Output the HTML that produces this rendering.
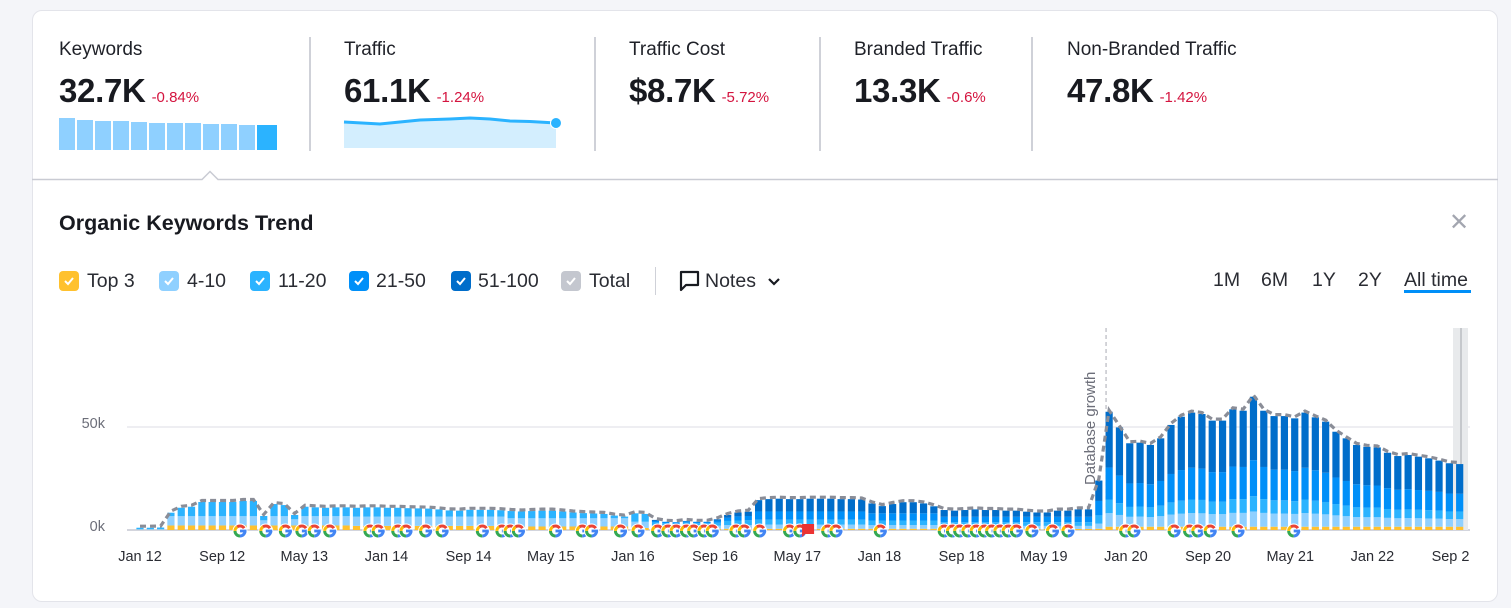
<!DOCTYPE html>
<html><head><meta charset="utf-8">
<style>
*{box-sizing:border-box;margin:0;padding:0}
body{width:1511px;height:608px;background:#f4f5f9;font-family:"Liberation Sans",sans-serif;color:#181a20;position:relative;overflow:hidden}
.card{position:absolute;left:32px;top:10px;width:1466px;height:592px;background:#fff;border:1px solid #e3e4ea;border-radius:10px}
.abs{position:absolute}
.lbl{font-size:19px;color:#1f2128;white-space:nowrap}
.big{font-size:33px;font-weight:bold;letter-spacing:-0.3px;white-space:nowrap}
.chg{font-size:15px;color:#d4143f;font-weight:normal;letter-spacing:0;margin-left:6px}
.sep{position:absolute;width:2px;background:#cfd1d8;top:37px;height:114px}
.cb{position:absolute;width:20px;height:20px;border-radius:4px;top:271px}
.cb svg{position:absolute;left:3px;top:3px}
.lt{position:absolute;top:270px;font-size:19.5px;color:#2a2c33}
.tr{position:absolute;top:269px;font-size:19.5px;color:#2a2c33}
</style></head>
<body>
<div class="card"></div>

<div class="abs lbl" style="left:59px;top:39px">Keywords</div>
<div class="abs big" style="left:59px;top:72px">32.7K<span class="chg">-0.84%</span></div>
<svg class="abs" style="left:59px;top:116px" width="220" height="34">
<g fill="#8fd0ff">
<rect x="0" y="2" width="16" height="32"/><rect x="18" y="4" width="16" height="30"/><rect x="36" y="5" width="16" height="29"/><rect x="54" y="5" width="16" height="29"/><rect x="72" y="6" width="16" height="28"/><rect x="90" y="7" width="16" height="27"/><rect x="108" y="7" width="16" height="27"/><rect x="126" y="7" width="16" height="27"/><rect x="144" y="8" width="16" height="26"/><rect x="162" y="8" width="16" height="26"/><rect x="180" y="9" width="16" height="25"/></g>
<rect x="198" y="9" width="20" height="25" fill="#2bb3ff"/>
</svg>
<div class="sep" style="left:309px"></div>

<div class="abs lbl" style="left:344px;top:39px">Traffic</div>
<div class="abs big" style="left:344px;top:72px">61.1K<span class="chg">-1.24%</span></div>
<svg class="abs" style="left:340px;top:112px" width="225" height="40">
<path d="M4 10 L40 12 L60 10 L80 8 L110 7 L130 6 L150 7 L170 9 L190 9.5 L216 11 L216 36 L4 36Z" fill="#d3eefe"/>
<path d="M4 10 L40 12 L60 10 L80 8 L110 7 L130 6 L150 7 L170 9 L190 9.5 L216 11" fill="none" stroke="#2bb3ff" stroke-width="3"/>
<circle cx="216" cy="11" r="5.5" fill="#2bb3ff" stroke="#fff" stroke-width="1"/>
</svg>
<div class="sep" style="left:594px"></div>

<div class="abs lbl" style="left:629px;top:39px">Traffic Cost</div>
<div class="abs big" style="left:629px;top:72px">$8.7K<span class="chg">-5.72%</span></div>
<div class="sep" style="left:819px"></div>

<div class="abs lbl" style="left:854px;top:39px">Branded Traffic</div>
<div class="abs big" style="left:854px;top:72px">13.3K<span class="chg">-0.6%</span></div>
<div class="sep" style="left:1031px"></div>

<div class="abs lbl" style="left:1067px;top:39px">Non-Branded Traffic</div>
<div class="abs big" style="left:1067px;top:72px">47.8K<span class="chg">-1.42%</span></div>

<svg class="abs" style="left:32px;top:170px" width="1466" height="14">
<path d="M0 9.5 H170 L178 1.5 L186 9.5 H1466" fill="#fff" stroke="#c9cbd3" stroke-width="1.5"/>
</svg>

<div class="abs" style="left:59px;top:211px;font-size:21.5px;font-weight:bold;color:#181a20">Organic Keywords Trend</div>
<div class="abs" style="left:1449px;top:209px;font-size:24px;color:#a3a6b0;line-height:28px">✕</div>

<div class="cb" style="left:59px;background:#ffc12e"><svg width="14" height="14"><path d="M3 7 L6 10 L11 4" stroke="#fff" stroke-width="2" fill="none"/></svg></div>
<div class="lt" style="left:87px">Top 3</div>
<div class="cb" style="left:159px;background:#8fd0ff"><svg width="14" height="14"><path d="M3 7 L6 10 L11 4" stroke="#fff" stroke-width="2" fill="none"/></svg></div>
<div class="lt" style="left:187px">4-10</div>
<div class="cb" style="left:250px;background:#2bb3ff"><svg width="14" height="14"><path d="M3 7 L6 10 L11 4" stroke="#fff" stroke-width="2" fill="none"/></svg></div>
<div class="lt" style="left:278px">11-20</div>
<div class="cb" style="left:349px;background:#008ff8"><svg width="14" height="14"><path d="M3 7 L6 10 L11 4" stroke="#fff" stroke-width="2" fill="none"/></svg></div>
<div class="lt" style="left:376px">21-50</div>
<div class="cb" style="left:451px;background:#006dca"><svg width="14" height="14"><path d="M3 7 L6 10 L11 4" stroke="#fff" stroke-width="2" fill="none"/></svg></div>
<div class="lt" style="left:478px">51-100</div>
<div class="cb" style="left:561px;background:#c4c7cf"><svg width="14" height="14"><path d="M3 7 L6 10 L11 4" stroke="#fff" stroke-width="2" fill="none"/></svg></div>
<div class="lt" style="left:589px">Total</div>
<div class="abs" style="left:655px;top:267px;width:1px;height:28px;background:#cfd1d8"></div>
<svg class="abs" style="left:679px;top:270px" width="22" height="22"><path d="M2 2 H19 V15 H7 L2 20Z" fill="none" stroke="#181a20" stroke-width="2.2" stroke-linejoin="round"/></svg>
<div class="lt" style="left:705px">Notes</div>
<svg class="abs" style="left:767px;top:276px" width="14" height="12"><path d="M2 3 L7 8 L12 3" fill="none" stroke="#181a20" stroke-width="2.2"/></svg>

<div class="tr" style="left:1213px">1M</div>
<div class="tr" style="left:1261px">6M</div>
<div class="tr" style="left:1312px">1Y</div>
<div class="tr" style="left:1358px">2Y</div>
<div class="tr" style="left:1404px">All time</div>
<div class="abs" style="left:1404px;top:290px;width:67px;height:3px;background:#008ff8"></div>

<svg id="chart" class="abs" style="left:0;top:0" width="1511" height="608"></svg>

<script>
const top3 = [0.1,0.1,0.1,
2.2,2.2,2.2,2.2,2.2,2.2,2.2,2.2,2.2,2.2,2.2,2.2,2.2,2.2,2.2,2.2,2.2,2.2,
2.0,2.0,2.0,2.0,2.0,2.0,2.0,2.0,2.0,2.0,2.0,2.0,2.0,2.0,2.0,
1.7,1.7,1.7,1.7,1.7,1.7,1.7,1.7,1.7,1.7,1.7,1.7,
1.0,1.0,0.6,0.6,0.6,0.6,0.6,0.6,0.6,0.6,0.6,0.6,
0.6,0.6,0.6,0.6,0.6,0.6,0.6,0.6,0.6,0.6,0.6,
0.6,0.6,0.6,0.6,0.6,0.6,0.6,
0.5,0.5,0.5,0.5,0.5,0.5,0.5,0.5,0.5,0.5,0.5,0.5,0.5,0.5,0.5,
0.6,
1.6,1.6,1.6,1.6,1.6,1.6,1.6,1.6,1.6,1.6,1.6,1.6,1.6,1.6,1.6,1.6,1.6,1.6,1.6,1.6,1.6,1.6,1.6,1.6,1.6,1.6,1.6,1.6,1.6,1.6,1.6,1.6,1.6,1.6,1.6];
const pos4to10 = [0.3,0.3,0.3,
4.5,4.5,4.5,4.5,4.5,4.5,4.5,4.5,4.5,2.5,4.5,4.5,3.0,4.5,4.5,4.5,4.5,4.5,
4.5,4.5,4.5,4.5,4.5,4.5,4.5,4.5,4.5,4.5,4.5,4.5,4.5,4.5,4.5,
4.0,4.0,4.0,4.0,4.0,4.0,4.0,4.0,4.0,4.0,4.0,4.0,
3.0,3.0,1.5,1.5,1.5,1.5,1.5,1.5,1.5,1.8,1.8,1.8,
2.0,2.0,2.0,2.0,2.0,2.0,2.0,2.0,2.0,2.0,2.0,
1.8,1.8,1.8,1.8,1.8,1.8,1.8,
1.5,1.5,1.5,1.5,1.5,1.5,1.5,1.5,1.5,1.5,1.5,1.5,1.5,1.5,1.5,
2.5,
6.6,5.7,4.8,4.9,4.7,5.1,5.9,6.3,6.6,6.5,6.1,6.1,6.7,6.7,7.4,6.7,6.4,6.4,6.2,6.6,6.3,6.0,5.5,5.1,4.7,4.6,4.6,4.3,4.1,4.2,4.1,4.0,3.9,3.7,3.7];
const pos11to20 = [0.7,0.7,0.8,
1.7,4.1,4.6,6.9,6.9,6.9,6.9,7.4,7.4,2.1,5.9,5.4,2.1,4.6,4.3,4.1,4.3,4.3,
4.3,4.5,4.5,4.3,4.3,4.1,4.0,3.9,3.5,3.0,2.9,3.3,3.3,3.3,3.1,
3.5,3.3,3.5,3.7,3.7,3.3,2.8,2.5,2.3,2.1,1.3,0.8,
4.1,3.8,1.6,1.2,1.0,1.4,1.2,1.2,1.5,2.0,2.2,2.3,
2.4,2.4,2.4,2.4,2.4,2.4,2.4,2.4,2.4,2.4,2.4,
2.2,2.2,2.2,2.2,2.2,2.2,2.2,
1.8,1.8,1.8,1.8,1.8,1.8,1.8,1.8,1.8,1.8,1.8,1.8,1.8,1.8,1.8,
4.0,
6.6,5.7,4.8,4.9,4.7,5.1,5.9,6.3,6.6,6.5,6.1,6.1,6.7,6.7,7.4,6.7,6.4,6.4,6.2,6.6,6.3,6.0,5.5,5.1,4.7,4.6,4.6,4.3,4.1,4.2,4.1,4.0,3.9,3.7,3.7];
const pos21to50 = [0,0,0,
0,0,0,0,0,0,0,0,0,0,0,0,0,0,0,0,0,0,
0,0,0,0,0,0,0,0,0,0,0,0,0,0,0,
0,0,0,0,0,0,0,0,0,0,0,0,
0,0,0.7,0.7,0.7,0.7,0.7,0.7,1.0,1.5,2.0,2.1,
4.0,4.0,4.0,4.0,4.0,4.0,4.0,4.0,4.0,4.0,4.0,
3.5,3.5,3.5,3.5,3.5,3.5,3.5,
2.6,2.6,2.6,2.6,2.6,2.6,2.6,2.6,2.6,2.6,2.6,2.6,2.6,2.6,2.6,
7.0,
15.5,13.4,11.4,11.4,11.2,12.0,13.8,14.9,15.4,15.2,14.3,14.3,15.8,15.6,17.5,15.6,14.9,14.9,14.6,15.4,14.8,14.2,12.9,12.0,11.2,10.9,10.8,10.1,9.7,9.8,9.6,9.4,9.1,8.7,8.6];
const totalKw = [1.1,1.1,1.2,
8.4,10.8,11.3,13.6,13.6,13.6,13.6,14.1,14.1,6.8,12.6,12.1,7.3,11.3,11.0,10.8,11.0,11.0,
10.8,11.0,11.0,10.8,10.8,10.6,10.5,10.4,10.0,9.5,9.4,9.8,9.8,9.8,9.6,
9.2,9.0,9.2,9.4,9.4,9.0,8.5,8.2,8.0,7.8,7.0,6.5,
8.1,7.8,4.9,4.0,3.8,4.4,4.0,4.0,5.2,7.3,8.5,8.9,
14.5,15.0,15.2,15.0,15.0,15.2,15.2,15.2,15.0,15.0,14.8,
12.9,11.6,12.6,13.5,13.5,12.9,11.5,
9.7,9.4,9.7,10.0,9.7,9.7,9.4,9.4,8.9,8.5,8.5,9.4,9.4,10.0,10.0,
24.0,
57.4,49.8,42.1,42.4,41.3,44.5,51.0,55.0,57.0,56.3,53.1,53.1,58.6,57.9,64.7,57.9,55.3,55.3,54.2,57.0,54.7,52.6,47.7,44.5,41.3,40.4,40.1,37.5,35.9,36.4,35.6,34.8,33.7,32.4,32.0];
const xTickLabels = ["Jan 12","Sep 12","May 13","Jan 14","Sep 14","May 15","Jan 16","Sep 16","May 17","Jan 18","Sep 18","May 19","Jan 20","Sep 20","May 21","Jan 22","Sep 22"];
const xTickMonths = [0,8,16,24,32,40,48,56,64,72,80,88,96,104,112,120,128];
const yTicks = [0,50];
const yTickLabels = ["0k","50k"];
const googleNotes = [9.7,12.2,14.1,15.7,16.9,18.4,22.3,23.1,25,25.8,27.7,29.3,33.2,35.1,35.9,36.7,40.3,42.9,43.8,46.6,48.3,50.2,51.2,52,53,53.7,54.7,55.5,57.8,58.6,60.1,63,64,66.7,67.5,71.8,78,78.8,79.5,80.3,81.1,81.9,82.6,83.4,84.2,85,86.5,88.5,90,95.6,96.4,100.3,101.8,102.6,103.8,106.5,111.9];
const flagNotes = [64.8];
const dbGrowthMonth = 93.7;

const NS="http://www.w3.org/2000/svg";
const svg=document.getElementById('chart');
const X0=140, XS=10.31, Y0=530, YS=103/50;
const xScale=m=>X0+m*XS;
const yScale=v=>Y0-v*YS;
function mk(tag,attrs,parent){const e=document.createElementNS(NS,tag);for(const k in attrs)e.setAttribute(k,attrs[k]);(parent||svg).appendChild(e);return e;}

const defs=mk('defs',{});
const cp=mk('clipPath',{id:'plotclip'},defs);
mk('rect',{x:100,y:300,width:1370,height:300},cp);

yTicks.forEach((t,i)=>{
  const gl=mk('line',{x1:127,x2:1470,y1:yScale(t),y2:yScale(t),stroke:i===0?'#d3d5dd':'#e3e4ea','stroke-width':i===0?2:1.2});
  
  
  const tl=mk('text',{x:105,y:yScale(t)+1,'text-anchor':'end','font-size':14.5,fill:'#6c6e79','font-family':'Liberation Sans, sans-serif'});
  tl.textContent=yTickLabels[i];
  
  
});

const band=mk('rect',{x:1453,y:328,width:15,height:202,fill:'#e8eaec'});


mk('line',{x1:1461,x2:1461,y1:328,y2:530,stroke:'#b9bdc1','stroke-width':1.5});

const dbx=xScale(dbGrowthMonth);
const dbl=mk('line',{x1:dbx,x2:dbx,y1:328,y2:530,stroke:'#a9abb3','stroke-width':1,'stroke-dasharray':'4 3'});


const dbt=mk('text',{x:0,y:0,transform:`translate(${dbx-11},485) rotate(-90)`,'font-size':15,fill:'#6c6e79','font-family':'Liberation Sans, sans-serif'});
dbt.textContent='Database growth';



const series=[
 {name:'top3',c:'#ffc12e'},{name:'pos-4-10',c:'#8fd0ff'},{name:'pos-11-20',c:'#2bb3ff'},{name:'pos-21-50',c:'#008ff8'},{name:'pos-51-100',c:'#006dca'}];
const barsG=mk('g',{});
const totalPts=[];
for(let i=0;i<totalKw.length;i++){
  const vals=[top3[i],pos4to10[i],pos11to20[i],pos21to50[i]];
  const s=vals.reduce((a,b)=>a+b,0);
  vals.push(Math.max(0,totalKw[i]-s));
  let acc=0;
  const cx=xScale(i);
  vals.forEach((v,k)=>{
    if(v<=0)return;
    const y1=yScale(acc+v), y2=yScale(acc);
    const r=mk('rect',{x:cx-3.6,y:y1,width:7.2,height:Math.max(0,y2-y1),fill:series[k].c},barsG);
    
    
    acc+=v;
  });
  totalPts.push([cx,yScale(totalKw[i])-1.5]);
}
const tl=mk('path',{d:'M'+totalPts.map(p=>p[0].toFixed(1)+' '+p[1].toFixed(1)).join(' L'),fill:'none',stroke:'#8a8d97','stroke-width':3.2,'stroke-dasharray':'6 4'});



googleNotes.forEach(m=>{
  const g=mk('g',{transform:`translate(${xScale(m)},531)`});
  
  
  mk('circle',{r:7.5,fill:'#fff'},g);
  const C=2*Math.PI*5;
  [['#4285f4',0.25,0],['#34a853',0.25,0.25],['#fbbc05',0.15,0.5],['#ea4335',0.25,0.65]].forEach(([col,f,o])=>{
    mk('circle',{r:5,fill:'none',stroke:col,'stroke-width':3,'stroke-dasharray':`${C*f} ${C}`,'stroke-dashoffset':-C*o},g);
  });
  mk('rect',{x:0,y:-1.4,width:6.5,height:2.8,fill:'#4285f4'},g);
});
flagNotes.forEach(m=>{
  const f=mk('path',{d:`M${xScale(m)-6} 524 h12 v10 h-9 l-3 3z`,fill:'#ec3333'});
  
  
});

const xg=mk('g',{'clip-path':'url(#plotclip)'});
xTickLabels.forEach((t,i)=>{
  const e=mk('text',{x:140+xTickMonths[i]*10.27,y:561,'text-anchor':'middle','font-size':14.5,fill:'#2a2c33','font-family':'Liberation Sans, sans-serif'},xg);
  e.textContent=t;
  
  
});
</script>
</body></html>
